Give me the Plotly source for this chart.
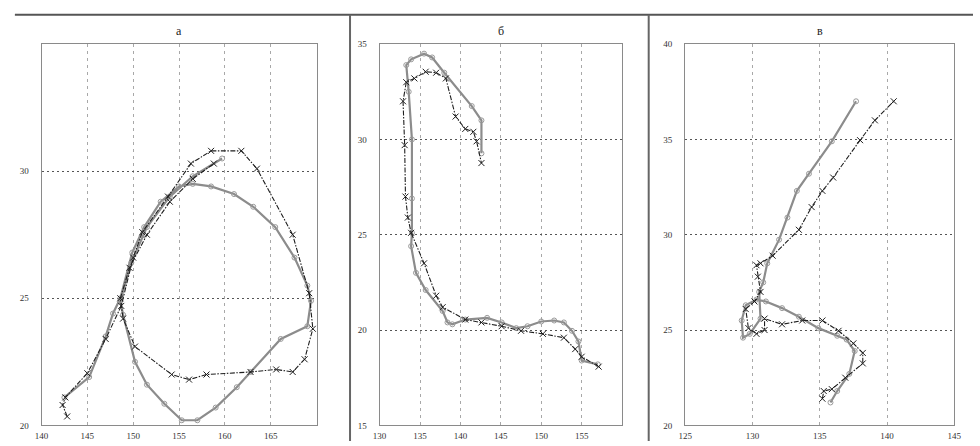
import plotly.graph_objects as go

# ---- panel "а" ----
a_x_lon = [142.8, 142.3, 142.6, 145.0, 147.0, 148.7, 150.0, 151.0, 153.8, 156.3, 158.5, 161.8, 163.5,
           167.4, 169.2, 169.6, 168.7, 167.4, 165.6, 162.8, 158.0, 156.1, 154.2, 150.2, 148.9, 148.6,
           149.6, 151.5, 154.0, 156.5, 158.8]
a_x_lat = [20.35, 20.8, 21.1, 22.05, 23.4, 24.7, 26.6, 27.6, 29.0, 30.3, 30.8, 30.8, 30.1,
           27.5, 25.2, 23.8, 22.6, 22.1, 22.2, 22.1, 22.0, 21.8, 22.0, 23.1, 24.2, 25.0,
           26.2, 27.5, 28.8, 29.7, 30.3]
a_o_lon = [142.5, 145.2, 147.0, 147.8, 148.6, 149.9, 151.2, 153.0, 155.0, 156.5, 158.5, 161.0, 163.1,
           165.5, 167.6, 169.0, 169.4, 169.0, 166.1, 162.8, 161.3, 159.0, 157.0, 155.3, 153.4, 151.5,
           150.2, 148.9, 148.6, 149.8, 151.5, 154.0, 156.5, 159.7]
a_o_lat = [21.1, 21.9, 23.5, 24.4, 25.0, 26.8, 27.8, 28.8, 29.4, 29.5, 29.4, 29.1, 28.6,
           27.8, 26.6, 25.5, 24.9, 23.9, 23.4, 22.1, 21.5, 20.7, 20.2, 20.2, 20.85, 21.6,
           22.5, 24.35, 24.9, 26.4, 27.8, 29.0, 29.8, 30.5]

# ---- panel "б" ----
b_x_lon = [157.1, 155.0, 154.2, 152.8, 150.2, 147.5, 145.1, 142.6, 140.6, 137.8, 137.0, 135.5, 133.9,
           133.5, 133.2, 133.1, 132.9, 133.3, 134.3, 135.7, 137.0, 138.2, 139.4, 140.6, 141.6, 142.0, 142.6]
b_x_lat = [18.08, 18.6, 19.0, 19.6, 19.8, 19.96, 20.2, 20.4, 20.55, 21.2, 21.8, 23.5, 25.1,
           25.9, 27.0, 29.7, 32.0, 33.0, 33.2, 33.55, 33.5, 33.2, 31.2, 30.55, 30.4, 29.9, 28.76]
b_o_lon = [157.0, 155.0, 154.6, 153.8, 152.8, 151.6, 150.0, 148.3, 146.9, 145.1, 143.3, 140.6, 139.0,
           138.4, 137.8, 135.7, 134.5, 133.9, 134.0, 134.0, 134.0, 133.6, 133.3, 133.9, 135.5, 136.5,
           138.0, 141.4, 142.6, 142.6]
b_o_lat = [18.2, 18.4, 19.4, 19.96, 20.4, 20.5, 20.45, 20.2, 20.1, 20.4, 20.64, 20.55, 20.3,
           20.4, 21.0, 22.1, 23.0, 24.4, 25.1, 26.9, 30.0, 32.5, 33.9, 34.2, 34.5, 34.3,
           33.5, 31.75, 31.0, 29.27]

# ---- panel "в" ----
c_x_lon = [135.2, 135.3, 135.9, 136.9, 138.2, 138.2, 137.5, 136.4, 135.2, 133.7, 132.2, 130.9, 130.9,
           130.3, 129.7, 129.5, 130.15, 130.6, 130.4, 130.3, 130.6, 131.5, 133.45, 134.4, 135.2, 136.0,
           138.0, 139.1, 140.5]
c_x_lat = [21.4, 21.8, 21.9, 22.5, 23.25, 23.8, 24.3, 24.96, 25.5, 25.5, 25.3, 25.6, 25.0,
           24.8, 25.1, 26.1, 26.5, 27.0, 27.8, 28.4, 28.5, 28.9, 30.26, 31.45, 32.3, 33.0,
           34.96, 36.0, 37.0]
c_o_lon = [135.8, 136.3, 137.2, 137.6, 137.0, 136.3, 134.9, 133.45, 132.2, 131.0, 130.3, 129.5, 129.2,
           129.3, 129.8, 130.6, 130.5, 130.8, 131.1, 131.98, 132.6, 133.3, 134.2, 135.9, 137.7]
c_o_lat = [21.2, 21.8, 22.7, 23.9, 24.5, 24.7, 25.1, 25.7, 26.15, 26.5, 26.6, 26.3, 25.5,
           24.6, 24.8, 25.6, 27.0, 27.5, 28.5, 29.74, 30.9, 32.3, 33.2, 34.9, 37.0]

panel_titles = ["а", "б", "в"]
x_ranges = [(140, 170), (130, 160), (125, 145)]
y_ranges = [(20, 35), (15, 35), (20, 40)]
x_ticks = [[140, 145, 150, 155, 160, 165], [130, 135, 140, 145, 150, 155], [125, 130, 135, 140, 145]]
y_ticks = [[20, 25, 30], [15, 20, 25, 30, 35], [20, 25, 30, 35, 40]]

W, H = 980, 446
# plot-area pixel boxes (left, right) and shared (top, bottom)
x_px = [(35, 314), (378, 624), (688, 961)]
top_px, bot_px = 40, 430

tracks = [(a_x_lon, a_x_lat, a_o_lon, a_o_lat),
          (b_x_lon, b_x_lat, b_o_lon, b_o_lat),
          (c_x_lon, c_x_lat, c_o_lon, c_o_lat)]

fig = go.Figure()
tick_font = dict(family="Liberation Serif", size=9, color="#333")

for i, (xl, yl, ol, ola) in enumerate(tracks):
    sfx = "" if i == 0 else str(i + 1)
    xa, ya = "x" + sfx, "y" + sfx
    fig.add_trace(go.Scatter(
        x=ol, y=ola, xaxis=xa, yaxis=ya, mode="lines+markers",
        line=dict(color="#8c8c8c", width=2.2),
        marker=dict(symbol="circle-open", size=5, color="#999999", line=dict(width=1)),
        showlegend=False, hoverinfo="skip"))
    fig.add_trace(go.Scatter(
        x=xl, y=yl, xaxis=xa, yaxis=ya, mode="lines+markers",
        line=dict(color="#1e1e1e", width=1.1, dash="5px,1.5px,1.5px,1.5px"),
        marker=dict(symbol="x-thin-open", size=6, color="#1e1e1e", line=dict(width=1, color="#1e1e1e")),
        showlegend=False, hoverinfo="skip"))

    l, r = x_px[i]
    fig.layout["xaxis" + sfx] = dict(
        domain=[l / W, r / W], range=list(x_ranges[i]), anchor=ya,
        tickvals=x_ticks[i], ticktext=[str(v) for v in x_ticks[i]],
        showgrid=True, gridcolor="#a8a8a8", griddash="3px,4px", gridwidth=1,
        showline=True, linecolor="#8a8a8a", linewidth=1, mirror=True,
        zeroline=False, ticks="", tickfont=tick_font, ticklabelstandoff=2)
    fig.layout["yaxis" + sfx] = dict(
        domain=[1 - bot_px / H, 1 - top_px / H], range=list(y_ranges[i]), anchor=xa,
        tickvals=y_ticks[i], ticktext=[str(v) for v in y_ticks[i]],
        showgrid=True, gridcolor="#555555", griddash="2px,3px", gridwidth=1,
        showline=True, linecolor="#8a8a8a", linewidth=1, mirror=True,
        zeroline=False, ticks="", tickfont=tick_font, ticklabelstandoff=10)

    fig.add_annotation(
        text=panel_titles[i], xref="paper", yref="paper",
        x=(l + r) / 2 / W, y=1 - 27 / H, showarrow=False,
        font=dict(family="Liberation Serif", size=12, color="#222"),
        xanchor="center", yanchor="middle")

# frame: top rule and panel separators
fig.add_shape(type="line", xref="paper", yref="paper", x0=8 / W, x1=1, y0=1 - 10 / H, y1=1 - 10 / H,
              line=dict(color="#555", width=2))
for xs in (348, 651):
    fig.add_shape(type="line", xref="paper", yref="paper", x0=xs / W, x1=xs / W, y0=0, y1=1 - 10 / H,
                  line=dict(color="#666", width=2))

fig.update_layout(
    width=W, height=H, margin=dict(l=0, r=0, t=0, b=0),
    paper_bgcolor="white", plot_bgcolor="white")

fig.write_html("out.html")
